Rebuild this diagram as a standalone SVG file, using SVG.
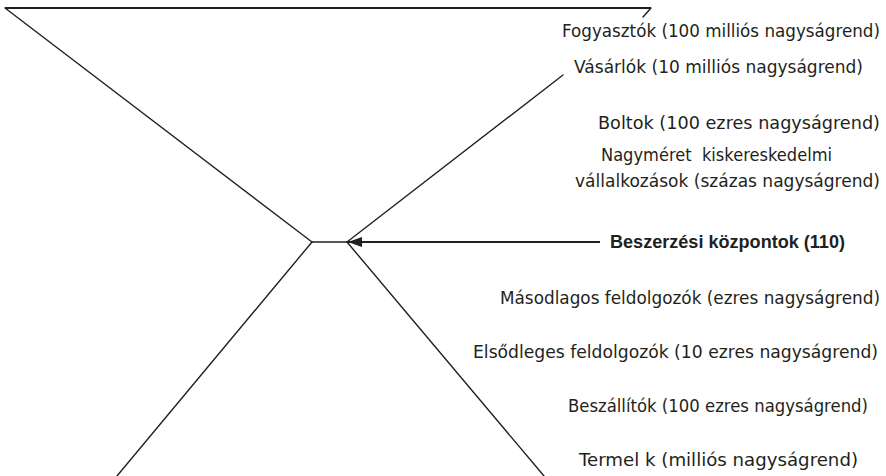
<svg xmlns="http://www.w3.org/2000/svg" width="886" height="476" viewBox="0 0 886 476">
  <defs>
    <style>
      .ln { stroke: #231f20; stroke-width: 1.4; fill: none; stroke-linecap: round; }
      .thick { stroke: #231f20; stroke-width: 2; fill: none; }
      .lbl { font-family: "DejaVu Sans", "Liberation Sans", sans-serif; font-size: 17px; fill: #231f20; white-space: pre; }
      .bold { font-family: "Liberation Sans", "DejaVu Sans", sans-serif; font-weight: bold; font-size: 18px; }
    </style>
    <marker id="arr" viewBox="0 0 14 10" refX="14" refY="5" markerWidth="14" markerHeight="10" markerUnits="userSpaceOnUse" orient="auto">
      <path d="M0,0 L14,5 L0,10 Z" fill="#231f20"/>
    </marker>
  </defs>
  <rect width="886" height="476" fill="#ffffff"/>
  <g id="connectors">
    <line class="thick" x1="5" y1="8" x2="651" y2="8"/>
    <line class="ln" x1="5" y1="8" x2="312" y2="242"/>
    <line class="ln" x1="651" y1="8" x2="643" y2="17"/>
    <line class="ln" x1="347" y1="242" x2="563" y2="75"/>
    <line class="ln" x1="312" y1="242" x2="347" y2="242"/>
    <line class="ln" x1="312" y1="242" x2="117" y2="476"/>
    <line class="ln" x1="347" y1="242" x2="544" y2="476"/>
    <line class="thick" x1="600" y1="242" x2="348" y2="242" marker-end="url(#arr)"/>
  </g>
  <g id="fogyasztok"><text class="lbl" x="562" y="37" textLength="318" lengthAdjust="spacingAndGlyphs">Fogyasztók (100 milliós nagyságrend)</text></g>
  <g id="vasarlok"><text class="lbl" x="574" y="73" textLength="289" lengthAdjust="spacingAndGlyphs">Vásárlók (10 milliós nagyságrend)</text></g>
  <g id="boltok"><text class="lbl" x="598" y="129" textLength="282" lengthAdjust="spacingAndGlyphs">Boltok (100 ezres nagyságrend)</text></g>
  <g id="nagymeret">
    <text class="lbl" x="601" y="161" textLength="231" lengthAdjust="spacingAndGlyphs">Nagyméret  kiskereskedelmi</text>
    <text class="lbl" x="575" y="187" textLength="305" lengthAdjust="spacingAndGlyphs">vállalkozások (százas nagyságrend)</text>
  </g>
  <g id="beszerzesi"><text class="lbl bold" x="610" y="248" textLength="235" lengthAdjust="spacingAndGlyphs">Beszerzési központok (110)</text></g>
  <g id="masodlagos"><text class="lbl" x="500" y="304" textLength="380" lengthAdjust="spacingAndGlyphs">Másodlagos feldolgozók (ezres nagyságrend)</text></g>
  <g id="elsodleges"><text class="lbl" x="473" y="358" textLength="405" lengthAdjust="spacingAndGlyphs">Elsődleges feldolgozók (10 ezres nagyságrend)</text></g>
  <g id="beszallitok"><text class="lbl" x="568" y="412" textLength="300" lengthAdjust="spacingAndGlyphs">Beszállítók (100 ezres nagyságrend)</text></g>
  <g id="termelok"><text class="lbl" x="579" y="466" textLength="279" lengthAdjust="spacingAndGlyphs">Termel k (milliós nagyságrend)</text></g>
</svg>
